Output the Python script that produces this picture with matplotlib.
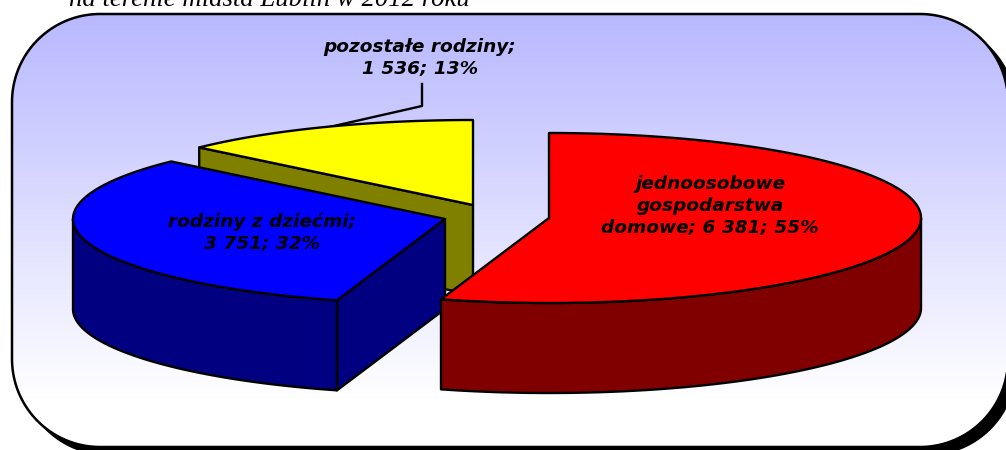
import matplotlib
matplotlib.use("Agg")
import matplotlib.pyplot as plt
from matplotlib.patches import Polygon
import numpy as np

# data
categories = ["jednoosobowe\ngospodarstwa\ndomowe", "rodziny z dziećmi", "pozostałe rodziny"]
values = [6381, 3751, 1536]
value_texts = ["6 381", "3 751", "1 536"]
percent_texts = ["55%", "32%", "13%"]
title_text = "na terenie miasta Lublin w 2012 roku"

top_colors = ["#ff0000", "#0000ff", "#ffff00"]
side_colors = ["#800000", "#000080", "#808000"]

# layout in pixels
centers = [(549, 218), (445, 219), (473, 205)]
rx, ry, depth = 372, 85, 90

fig = plt.figure(figsize=(10.06, 4.5), dpi=100)
ax = fig.add_axes([0, 0, 1, 1])
ax.axis("off")


def rim(center, a1, a2):
    # a is degrees clockwise from 12 o'clock
    a = np.radians(np.linspace(a1, a2, 200))
    return np.column_stack([center[0] + rx * np.sin(a), center[1] - ry * np.cos(a)])


def rounded_box(x, y, w, h, r):
    # plain polygon, bezier paths get bent when they run past the canvas
    pts = []
    for cx, cy, start in [(x + w - r, y + r, 0), (x + w - r, y + h - r, 90),
                          (x + r, y + h - r, 180), (x + r, y + r, 270)]:
        a = np.radians(np.linspace(start, start + 90, 40))
        pts.append(np.column_stack([cx + r * np.sin(a), cy - r * np.cos(a)]))
    return np.vstack(pts)


def draw_slice(center, a1, a2, top, side):
    apex = np.array(center, dtype=float)
    down = np.array([0, depth])
    style = dict(ec="k", lw=1.7, joinstyle="round", zorder=2)
    # cut faces that look towards the viewer
    if np.sin(np.radians(a1)) < -1e-6:
        p = rim(center, a1, a1)[0]
        ax.add_patch(Polygon([apex, p, p + down, apex + down], fc=side, **style))
    if np.sin(np.radians(a2)) > 1e-6:
        p = rim(center, a2, a2)[0]
        ax.add_patch(Polygon([apex, p, p + down, apex + down], fc=side, **style))
    # outer wall, only the front half of the circle
    lo, hi = max(a1, 90), min(a2, 270)
    if lo < hi:
        r = rim(center, lo, hi)
        ax.add_patch(Polygon(np.vstack([r, r[::-1] + down]), fc=side, **style))
    ax.add_patch(Polygon(np.vstack([[apex], rim(center, a1, a2)]), fc=top, **style))


# background box with shadow
box = (12, 14, 996, 433)
corner = 88
ax.add_patch(Polygon(rounded_box(box[0] + 8, box[1] + 8, box[2], box[3], corner), fc="k", ec="k", lw=1, zorder=0.1))
ax.add_patch(Polygon(rounded_box(*box, corner), fc="w", ec="none", zorder=0.2))
grad = np.linspace(0, 1, 256)[:, None, None] * np.array([71, 71, 0]) / 255 + np.array([184, 184, 255]) / 255
im = ax.imshow(grad, extent=(box[0], box[0] + box[2], box[1] + 385, box[1]), aspect="auto", zorder=0.3)
frame = Polygon(rounded_box(*box, corner), fc="none", ec="k", lw=1.8, zorder=0.5)
ax.add_patch(frame)
im.set_clip_path(frame)
ax.set_xlim(0, 1006)
ax.set_ylim(450, 0)

# slices, back to front
total = sum(values)
edges = np.concatenate([[0], np.cumsum(values)]) / total * 360
for i in [2, 1, 0]:
    draw_slice(centers[i], edges[i], edges[i + 1], top_colors[i], side_colors[i])

# leader line
ax.plot([422, 422, 325], [84, 106, 128], color="k", lw=1.7, zorder=1.5)

# labels
font = dict(family="DejaVu Sans", weight="bold", style="italic", color="k", fontsize=13.3,
            ha="center", va="center", linespacing=1.3, zorder=3)
ax.text(710, 206, f"{categories[0]}; {value_texts[0]}; {percent_texts[0]}", **font)
ax.text(262, 233, f"{categories[1]};\n{value_texts[1]}; {percent_texts[1]}", **font)
ax.text(420, 58, f"{categories[2]};\n{value_texts[2]}; {percent_texts[2]}", **font)

# cut off title line above the box
ax.text(269, 6, title_text, family="Liberation Serif", style="italic", fontsize=19.3, ha="center",
        va="baseline", color="k")

fig.savefig("out.png", dpi=100)
